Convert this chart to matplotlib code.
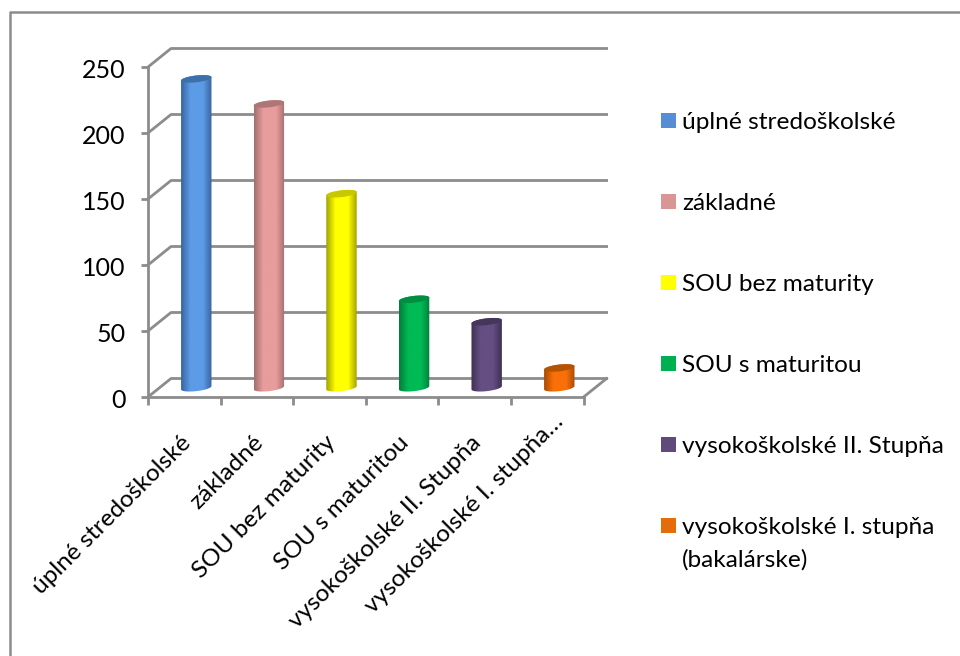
import numpy as np
import matplotlib
matplotlib.use("Agg")
import matplotlib.pyplot as plt
from matplotlib.colors import LinearSegmentedColormap
from matplotlib.lines import Line2D
from matplotlib.patches import Polygon, Rectangle
from matplotlib.transforms import ScaledTranslation

categories = ["úplné stredoškolské", "základné", "SOU bez maturity", "SOU s maturitou",
              "vysokoškolské II. Stupňa", "vysokoškolské I. stupňa…"]
legend_labels = ["úplné stredoškolské", "základné", "SOU bez maturity", "SOU s maturitou",
                 "vysokoškolské II. Stupňa", "vysokoškolské I. stupňa\n(bakalárske)"]
values = [234, 215, 147, 67, 50, 15]
yticks = [0, 50, 100, 150, 200, 250]

mid_colors = ["#5C9BE6", "#E89C9C", "#FFFF00", "#00BA55", "#644E82", "#F97008"]
edge_colors = ["#37659E", "#A36F6F", "#A3A300", "#00803A", "#3F3054", "#A84C05"]
top_colors = ["#3D70A8", "#AE7676", "#C8C800", "#008F40", "#46365C", "#B35404"]
legend_colors = ["#558ED5", "#D99694", "#FFFF00", "#00B050", "#604A7B", "#E46C0A"]

GREY = "#8c8c8c"
W, H = 960, 656
# px per data unit, front plane
sx = 72.6
sy = 1.32
# depth of the 3d box
dx = 23 / sx
dy = 18.5 / sy

plt.rcParams["font.family"] = ["Lato", "DejaVu Sans"]
fig = plt.figure(figsize=(9.6, 6.56), dpi=100)
ax = fig.add_axes([148 / W, 1 - 397 / H, 435.6 / W, 330 / H])
ax.set_xlim(0, 6)
ax.set_ylim(0, 250)
ax.patch.set_alpha(0)

# page border
fig.add_artist(Line2D([10 / W, 10 / W, 1], [0, 1 - 12 / H, 1 - 12 / H], color=GREY, lw=1.8))

# back wall grid and floor
for t in yticks:
    ax.plot([0, dx, 6 + dx], [t, t + dy, t + dy], color=GREY, lw=2, clip_on=False, zorder=1)
ax.plot([6, 6 + dx], [0, dy], color=GREY, lw=2, clip_on=False, zorder=1)

for s in ["top", "right"]:
    ax.spines[s].set_visible(False)
for s in ["left", "bottom"]:
    ax.spines[s].set_color(GREY)
    ax.spines[s].set_linewidth(2)
    ax.spines[s].set_zorder(1)

ax.set_yticks(yticks)
ax.tick_params(axis="y", color=GREY, width=2, length=5, labelsize=18, pad=11)
for lab in ax.get_yticklabels():
    lab.set_transform(lab.get_transform() + ScaledTranslation(0, -0.01, fig.dpi_scale_trans))
ax.set_xticks(np.arange(7), minor=True)
ax.tick_params(axis="x", which="minor", color=GREY, width=2, length=6)
ax.set_xticks(np.arange(6) + 0.44)
ax.tick_params(axis="x", which="major", length=0, pad=25)
ax.set_xticklabels(categories, rotation=45, ha="right", rotation_mode="anchor", fontsize=17.6)
# the cut off label sits higher than the others
last = ax.get_xticklabels()[-1]
last.set_transform(last.get_transform() + ScaledTranslation(0.1, 0.21, fig.dpi_scale_trans))


def ellipse(cx, cy, a, b, t):
    # tilted ellipse, a and b given in px, returned in data units
    x = a * np.cos(t)
    y = b * np.sin(t) + 0.11 * x
    return cx + x / sx, cy + y / sy


rx = 15.2
ry = 3.4
tt = np.linspace(0, 2 * np.pi, 80)
for i, v in enumerate(values):
    cx = i + 0.5 + 0.165
    base = dy / 2
    top = base + v
    # body: upper half of top ellipse joined to lower half of base ellipse
    xt, yt = ellipse(cx, top, rx, ry, np.linspace(0, np.pi, 40))
    xb, yb = ellipse(cx, base, rx, ry, np.linspace(np.pi, 2 * np.pi, 40))
    body = Polygon(np.column_stack([np.r_[xt, xb], np.r_[yt, yb]]), closed=True,
                   facecolor="none", edgecolor="none", transform=ax.transData, clip_on=False)
    ax.add_patch(body)
    cmap = LinearSegmentedColormap.from_list("c", [(0, edge_colors[i]), (0.3, mid_colors[i]),
                                                   (0.72, mid_colors[i]), (1, edge_colors[i])])
    im = ax.imshow(np.linspace(0, 1, 64).reshape(1, -1), cmap=cmap, aspect="auto",
                   extent=[cx - rx / sx, cx + rx / sx, base - 6, top + 6], zorder=3, clip_on=True)
    im.set_clip_path(body)
    xe, ye = ellipse(cx, top, rx, ry, tt)
    ax.fill(xe, ye, color=top_colors[i], zorder=4, clip_on=False, lw=0)
ax.set_xlim(0, 6)
ax.set_ylim(0, 250)

# legend by hand, the square sits on the first line of a wrapped label
for i, (label, c) in enumerate(zip(legend_labels, legend_colors)):
    bottom = 128 + 81 * i
    fig.add_artist(Rectangle((661 / W, 1 - bottom / H), 15 / W, 15 / H, facecolor=c,
                             edgecolor="none", transform=fig.transFigure))
    for j, part in enumerate(label.split("\n")):
        fig.text(682 / W, 1 - (bottom + 1 + 33 * j) / H, part, fontsize=17.6, va="baseline",
                 color="black")

fig.savefig("out.png", dpi=100)
